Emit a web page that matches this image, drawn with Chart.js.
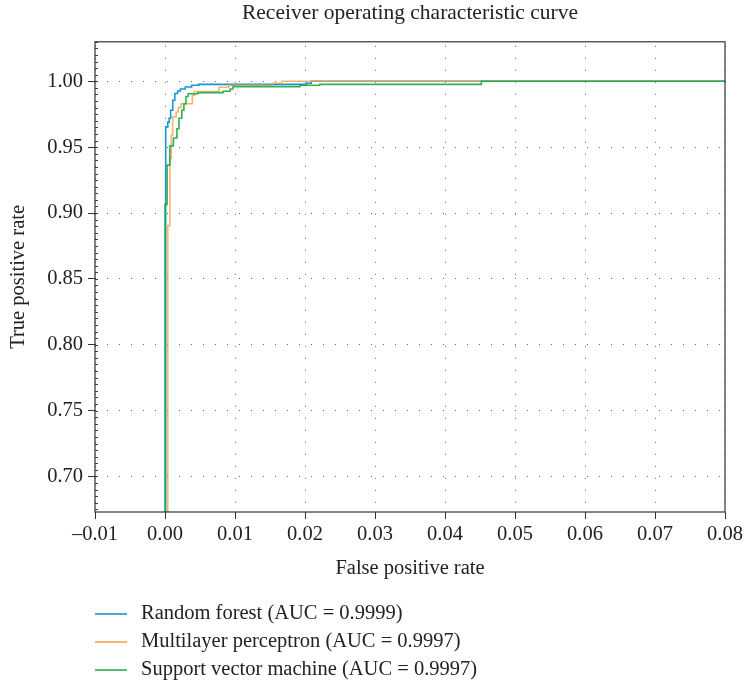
<!DOCTYPE html>
<html><head><meta charset="utf-8">
<script src="https://cdn.jsdelivr.net/npm/chart.js@4.4.1/dist/chart.umd.min.js"></script>
<style>html,body{margin:0;padding:0;background:#fff}#wrap{width:747px;height:686px}</style>
</head><body><div id="wrap"><canvas id="c" width="747" height="686"></canvas></div>
<script>
const titleText = 'Receiver operating characteristic curve';
const xTitle = 'False positive rate';
const yTitle = 'True positive rate';
const seriesNames = ['Random forest (AUC = 0.9999)', 'Multilayer perceptron (AUC = 0.9997)', 'Support vector machine (AUC = 0.9997)'];
const seriesColors = ['#1b96d4', 'rgba(246,160,70,0.78)', 'rgba(30,170,70,0.92)'];
const legendColors = ['#1b96d4', '#f6a34c', '#27ae4f'];
const xTicks = [-0.01, 0.00, 0.01, 0.02, 0.03, 0.04, 0.05, 0.06, 0.07, 0.08];
const yTicks = [0.70, 0.75, 0.80, 0.85, 0.90, 0.95, 1.00];

// ROC corner points (fpr, tpr): the curve goes right along the previous tpr, then up to this tpr
const rfFpr  = [0, 0.0001, 0.0004, 0.0006, 0.0008, 0.0011, 0.0014, 0.0018, 0.0022, 0.0029, 0.0038, 0.0048, 0.0202, 0.0209, 1];
const rfTpr  = [0, 0.9654, 0.9690, 0.9720, 0.9780, 0.9856, 0.9907, 0.9927, 0.9942, 0.9957, 0.9970, 0.9977, 0.9985, 1.0000, 1];
const mlpFpr = [0.0004, 0.0004, 0.0007, 0.0009, 0.0011, 0.0016, 0.0019, 0.0023, 0.0039, 0.0042, 0.0077, 0.0091, 0.0153, 0.0167, 1];
const mlpTpr = [0, 0.8904, 0.9417, 0.9590, 0.9730, 0.9767, 0.9800, 0.9830, 0.9895, 0.9923, 0.9955, 0.9970, 0.9985, 1.0000, 1];
const svmFpr = [0, 0.0000, 0.0003, 0.0007, 0.0012, 0.0017, 0.0020, 0.0024, 0.0027, 0.0030, 0.0033, 0.0047, 0.0083, 0.0093, 0.0097, 0.0193, 0.0221, 0.0452, 1];
const svmTpr = [0, 0.9066, 0.9364, 0.9510, 0.9570, 0.9640, 0.9720, 0.9780, 0.9830, 0.9885, 0.9905, 0.9914, 0.9924, 0.9942, 0.9960, 0.9970, 0.9977, 1.0000, 1];

const FONT = 'Liberation Serif';
const FS = 20.5;
const TFS = 21.5;
const pts = (xs, ys) => xs.map((x, i) => ({x: x, y: ys[i]}));
const seriesX = [rfFpr, mlpFpr, svmFpr];
const seriesY = [rfTpr, mlpTpr, svmTpr];

const fmtX = v => (v < 0 ? '\u2013' + Math.abs(v).toFixed(2) : v.toFixed(2));

const framePlugin = {
  id: 'frame',
  afterDraw(chart) {
    const {ctx, chartArea: a} = chart;
    const ys = chart.scales.y;
    ctx.save();
    ctx.strokeStyle = '#444';
    ctx.lineWidth = 1;
    ctx.beginPath();
    for (let k = 134; k <= 206; k++) {
      const v = k * 0.005;
      if (v < ys.min || v > ys.max) continue;
      const py = Math.round(ys.getPixelForValue(v)) + 0.5;
      ctx.moveTo(a.left, py); ctx.lineTo(a.left + 3, py);
    }
    ctx.stroke();
    ctx.strokeStyle = '#333';
    ctx.lineWidth = 1.2;
    ctx.strokeRect(a.left, a.top, a.right - a.left, a.bottom - a.top);
    const rows = [614, 642, 670];
    ctx.font = FS + 'px "' + FONT + '"';
    ctx.textBaseline = 'middle';
    ctx.textAlign = 'left';
    seriesNames.forEach((name, i) => {
      ctx.strokeStyle = legendColors[i];
      ctx.lineWidth = 1.6;
      ctx.beginPath();
      ctx.moveTo(95, rows[i]); ctx.lineTo(127, rows[i]);
      ctx.stroke();
      ctx.fillStyle = '#222';
      ctx.fillText(name, 141, rows[i]);
    });
    ctx.restore();
  }
};

new Chart(document.getElementById('c'), {
  type: 'line',
  data: {
    datasets: seriesNames.map((n, i) => ({
      label: n,
      data: pts(seriesX[i], seriesY[i]),
      borderColor: seriesColors[i],
      backgroundColor: seriesColors[i],
      borderWidth: 1.6,
      pointRadius: 0,
      stepped: 'before',
      fill: false,
      order: 3 - i
    }))
  },
  options: {
    responsive: false,
    animation: false,
    devicePixelRatio: 1,
    layout: {padding: {left: 0, right: 22, top: 0, bottom: 102}},
    plugins: {
      legend: {display: false},
      tooltip: {enabled: false},
      title: {
        display: true, text: titleText, color: '#222', fullSize: false,
        font: {family: FONT, size: TFS, weight: 'normal'},
        padding: {top: 0, bottom: 16}
      }
    },
    scales: {
      x: {
        type: 'linear', min: -0.01, max: 0.08,
        afterBuildTicks: s => { s.ticks = xTicks.map(v => ({value: v})); },
        afterFit: s => { s.height = 72; },
        ticks: {callback: v => fmtX(v), color: '#222', font: {family: FONT, size: FS}, padding: 3, maxRotation: 0, autoSkip: false},
        grid: {color: '#666', lineWidth: 1, tickLength: 7, tickColor: '#333', tickWidth: 1, tickBorderDash: []},
        border: {display: false, dash: [1, 11], dashOffset: 8},
        title: {display: true, text: xTitle, color: '#222', font: {family: FONT, size: FS}, padding: {top: 0, bottom: 3}}
      },
      y: {
        type: 'linear', min: 0.673, max: 1.03,
        afterBuildTicks: s => { s.ticks = yTicks.map(v => ({value: v})); },
        afterFit: s => { s.width = 95; },
        ticks: {callback: v => v.toFixed(2), color: '#222', font: {family: FONT, size: FS}, padding: 5},
        grid: {color: '#666', lineWidth: 1, tickLength: 7, tickColor: '#333', tickWidth: 1, tickBorderDash: []},
        border: {display: false, dash: [1, 11], dashOffset: 0},
        title: {display: true, text: yTitle, color: '#222', font: {family: FONT, size: FS}, padding: {top: 6, bottom: 0}}
      }
    }
  },
  plugins: [framePlugin]
});
</script>
</body></html>
